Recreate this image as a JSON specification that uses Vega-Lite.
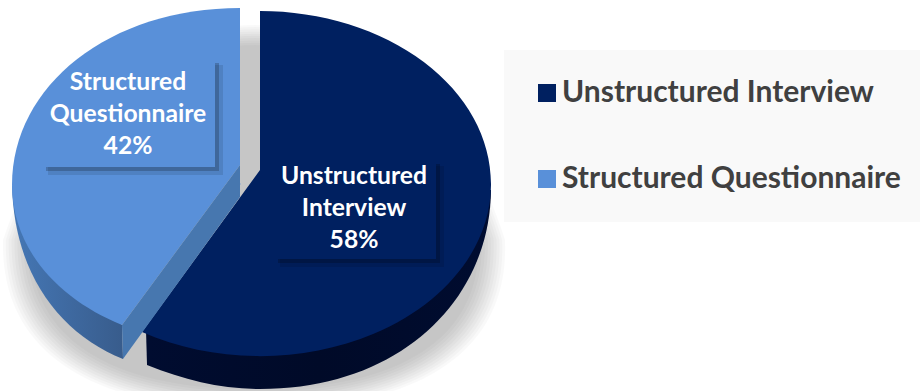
{
"$schema":"https://vega.github.io/schema/vega-lite/v6.json",
"width":920,"height":391,"padding":0,"autosize":{"type":"none"},"background":"white",
"config":{"view":{"stroke":null}},
"datasets":{
"slices":[
{"segment":"Unstructured Interview","share":58,"label":"Unstructured\nInterview\n58%"},
{"segment":"Structured Questionnaire","share":42,"label":"Structured\nQuestionnaire\n42%"}],
"shadow":[{"level":1},{"level":2},{"level":3},{"level":4},{"level":5},{"level":6},{"level":7},{"level":8},{"level":9},{"level":10}]
},
"resolve":{"scale":{"x":"independent","y":"independent","shape":"independent","size":"independent","color":"independent"}},
"layer":[
{"data":{"name":"shadow"},
 "mark":{"type":"point","filled":true,"fill":"#000000","opacity":0.025,"strokeWidth":0,"shape":"M0,-190C120,-190 215,-90 250,25C255,140 160,195 0,195C-160,195 -255,140 -252,25C-215,-90 -120,-190 0,-190Z"},
 "encoding":{
  "x":{"field":"level","type":"ordinal","axis":null,"scale":{"type":"point","padding":0,"range":[255,255]}},
  "y":{"field":"level","type":"ordinal","axis":null,"scale":{"type":"point","padding":0,"range":[215,215]}},
  "size":{"field":"level","type":"quantitative","legend":null,"scale":{"type":"linear","zero":false,"nice":false,"domain":[1,10],"range":[4,3.2]}}
 }},
{"data":{"name":"slices"},"transform":[{"filter":"datum.share==58"}],
 "mark":{"type":"point","filled":true,"size":4,"strokeWidth":0,"opacity":1,
  "fill":{"gradient":"linear","x1":0,"y1":0,"x2":1,"y2":0,"stops":[{"offset":0,"color":"#000c30"},{"offset":0.5,"color":"#000a28"},{"offset":1,"color":"#000c30"}]},
  "shape":"M-114,146L-113,181C-75,196 -40,205 0,205C140,205 230,116 231,6L0,0Z"},
 "encoding":{
  "x":{"field":"segment","type":"nominal","axis":null,"scale":{"type":"point","padding":0,"domain":["Unstructured Interview","Structured Questionnaire"],"range":[260,240]}},
  "y":{"field":"segment","type":"nominal","axis":null,"scale":{"type":"point","padding":0,"domain":["Unstructured Interview","Structured Questionnaire"],"range":[184,184]}}
 }},
{"data":{"name":"slices"},"transform":[{"filter":"datum.share==42"}],
 "mark":{"type":"point","filled":true,"size":4,"strokeWidth":0,"opacity":1,
  "fill":{"gradient":"linear","x1":0,"y1":0,"x2":1,"y2":0,"stops":[{"offset":0,"color":"#4577b5"},{"offset":1,"color":"#385c8c"}]},
  "shape":"M-228,1C-226,90 -180,150 -117,175L-118,141Z"},
 "encoding":{
  "x":{"field":"segment","type":"nominal","axis":null,"scale":{"type":"point","padding":0,"domain":["Unstructured Interview","Structured Questionnaire"],"range":[260,240]}},
  "y":{"field":"segment","type":"nominal","axis":null,"scale":{"type":"point","padding":0,"domain":["Unstructured Interview","Structured Questionnaire"],"range":[184,184]}}
 }},
{"data":{"name":"slices"},
 "mark":{"type":"point","filled":true,"size":1,"strokeWidth":0,"opacity":1,"shape":"square"},
 "encoding":{
  "x":{"field":"segment","type":"nominal","axis":null,"scale":{"type":"point","padding":0,"domain":["Unstructured Interview","Structured Questionnaire"],"range":[260,240]}},
  "y":{"field":"segment","type":"nominal","axis":null,"scale":{"type":"point","padding":0,"domain":["Unstructured Interview","Structured Questionnaire"],"range":[184,184]}},
  "color":{"field":"segment","type":"nominal","scale":{"domain":["Unstructured Interview","Structured Questionnaire"],"range":["#002060","#5990d9"]},
   "legend":{"title":null,"orient":"none","legendX":504,"legendY":50,"symbolType":"square","symbolSize":324,"symbolStrokeWidth":0,"fillColor":"#f9f9f9","padding":28,"labelFont":"Lato","labelFontWeight":"bold","labelFontSize":30,"labelColor":"#404040","labelOffset":0,"rowPadding":56,"labelLimit":500,
    "encode":{"labels":{"update":{"dy":{"value":1.5}}}}}}
 }},
{"data":{"name":"slices"},
 "mark":{"type":"point","filled":true,"size":4,"strokeWidth":0,"opacity":1},
 "encoding":{
  "x":{"field":"segment","type":"nominal","axis":null,"scale":{"type":"point","padding":0,"domain":["Unstructured Interview","Structured Questionnaire"],"range":[260,240]}},
  "y":{"field":"segment","type":"nominal","axis":null,"scale":{"type":"point","padding":0,"domain":["Unstructured Interview","Structured Questionnaire"],"range":[184,184]}},
  "shape":{"field":"segment","type":"nominal","legend":null,"scale":{"domain":["Unstructured Interview","Structured Questionnaire"],"range":[
   "M0,-173A231,173 0 0,1 231,1A231,172 0 0,1 -118,148L0,-14Z",
   "M0,-176L0,-19L-118,141C-180,116 -228,66 -228,1C-228,-99 -130,-176 0,-176Z"]}},
  "color":{"field":"segment","type":"nominal","legend":null,"scale":{"domain":["Unstructured Interview","Structured Questionnaire"],"range":["#002060","#5990d9"]}}
 }},
{"data":{"name":"slices"},"transform":[{"filter":"datum.share==42"}],
 "mark":{"type":"point","filled":true,"size":4,"strokeWidth":0,"opacity":1,"fill":"#4777af",
  "shape":"M0,-19L0,13L-117,175L-118,141Z"},
 "encoding":{
  "x":{"field":"segment","type":"nominal","axis":null,"scale":{"type":"point","padding":0,"domain":["Unstructured Interview","Structured Questionnaire"],"range":[260,240]}},
  "y":{"field":"segment","type":"nominal","axis":null,"scale":{"type":"point","padding":0,"domain":["Unstructured Interview","Structured Questionnaire"],"range":[184,184]}}
 }},
{"data":{"name":"slices"},
 "mark":{"type":"point","filled":true,"size":4,"strokeWidth":0,"fill":"#000000","opacity":0.1},
 "encoding":{
  "x":{"field":"segment","type":"nominal","axis":null,"scale":{"type":"point","padding":0,"domain":["Unstructured Interview","Structured Questionnaire"],"range":[354,128]}},
  "y":{"field":"segment","type":"nominal","axis":null,"scale":{"type":"point","padding":0,"domain":["Unstructured Interview","Structured Questionnaire"],"range":[208,115]}},
  "shape":{"field":"segment","type":"nominal","legend":null,"scale":{"domain":["Unstructured Interview","Structured Questionnaire"],"range":[
   "M82,-42L90,-42L90,59L-74,59L-74,51L82,51Z",
   "M87,-50L95,-50L95,60L-80,60L-80,52L87,52Z"]}}
 }},
{"data":{"name":"slices"},
 "mark":{"type":"point","filled":true,"size":4,"strokeWidth":0,"fill":"#000000","opacity":0.2},
 "encoding":{
  "x":{"field":"segment","type":"nominal","axis":null,"scale":{"type":"point","padding":0,"domain":["Unstructured Interview","Structured Questionnaire"],"range":[354,128]}},
  "y":{"field":"segment","type":"nominal","axis":null,"scale":{"type":"point","padding":0,"domain":["Unstructured Interview","Structured Questionnaire"],"range":[208,115]}},
  "shape":{"field":"segment","type":"nominal","legend":null,"scale":{"domain":["Unstructured Interview","Structured Questionnaire"],"range":[
   "M82,-44L86,-44L86,55L-76,55L-76,51L82,51Z",
   "M87,-52L91,-52L91,56L-82,56L-82,52L87,52Z"]}}
 }},
{"data":{"name":"slices"},
 "mark":{"type":"text","font":"Lato","fontWeight":"bold","fontSize":24.7,"color":"#ffffff","lineBreak":"\n","lineHeight":32,"align":"center","baseline":"middle"},
 "encoding":{
  "x":{"field":"segment","type":"nominal","axis":null,"scale":{"type":"point","padding":0,"domain":["Unstructured Interview","Structured Questionnaire"],"range":[354,128]}},
  "y":{"field":"segment","type":"nominal","axis":null,"scale":{"type":"point","padding":0,"domain":["Unstructured Interview","Structured Questionnaire"],"range":[177,83]}},
  "text":{"field":"label"}
 }}
]
}
